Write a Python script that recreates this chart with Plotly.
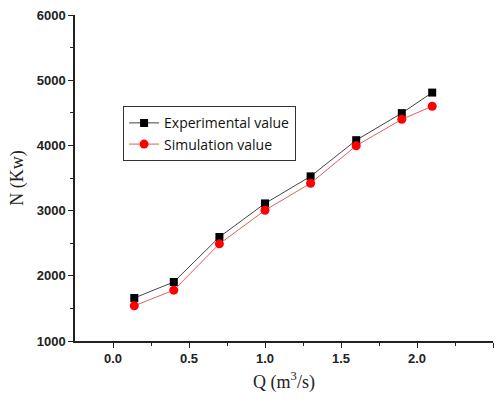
import plotly.graph_objects as go

q = [0.14, 0.40, 0.70, 1.00, 1.30, 1.60, 1.90, 2.10]
experimental = [1660, 1905, 2595, 3110, 3525, 4080, 4495, 4810]
simulation = [1540, 1780, 2490, 3005, 3420, 3995, 4400, 4600]

fig = go.Figure()
fig.add_trace(go.Scatter(x=q, y=experimental, mode="lines+markers", name="Experimental value",
                         line=dict(color="#444444", width=1),
                         marker=dict(symbol="square", size=8, color="black")))
fig.add_trace(go.Scatter(x=q, y=simulation, mode="lines+markers", name="Simulation value",
                         line=dict(color="#e06060", width=1),
                         marker=dict(symbol="circle", size=9, color="red")))

fig.update_layout(
    width=498, height=403,
    margin=dict(l=75, r=5, t=15, b=62),
    plot_bgcolor="white", paper_bgcolor="white",
    showlegend=True,
    legend=dict(x=0.115, y=0.72, xanchor="left", yanchor="top",
                bordercolor="#333333", borderwidth=1, bgcolor="white",
                font=dict(family="Open Sans", size=14, color="#111111"),
                tracegroupgap=2),
    xaxis=dict(range=[-0.25, 2.5], tickvals=[0, 0.5, 1.0, 1.5, 2.0, 2.5],
               ticktext=["0.0", "0.5", "1.0", "1.5", "2.0", "2.5"],
               ticks="outside", ticklen=5, tickwidth=1, tickcolor="#222222",
               minor=dict(tickvals=[0.25, 0.75, 1.25, 1.75, 2.25], ticks="outside", ticklen=3, tickcolor="#222222"),
               showline=True, linecolor="#222222", linewidth=1.5, showgrid=False, zeroline=False,
               tickfont=dict(family="Liberation Sans", size=13, color="#222222", weight="bold"),
               title=dict(text="Q (m<sup>3</sup>/s)", font=dict(family="Liberation Serif", size=18, color="#222222"), standoff=10)),
    yaxis=dict(range=[1000, 6000], tickvals=[1000, 2000, 3000, 4000, 5000, 6000],
               ticks="outside", ticklen=5, tickwidth=1, tickcolor="#222222",
               minor=dict(tickvals=[1500, 2500, 3500, 4500, 5500], ticks="outside", ticklen=3, tickcolor="#222222"),
               showline=True, linecolor="#222222", linewidth=1.5, showgrid=False, zeroline=False,
               tickfont=dict(family="Liberation Sans", size=13, color="#222222", weight="bold"),
               title=dict(text="N (Kw)", font=dict(family="Liberation Serif", size=18, color="#222222"), standoff=8)),
)
fig.write_html("out.html")
